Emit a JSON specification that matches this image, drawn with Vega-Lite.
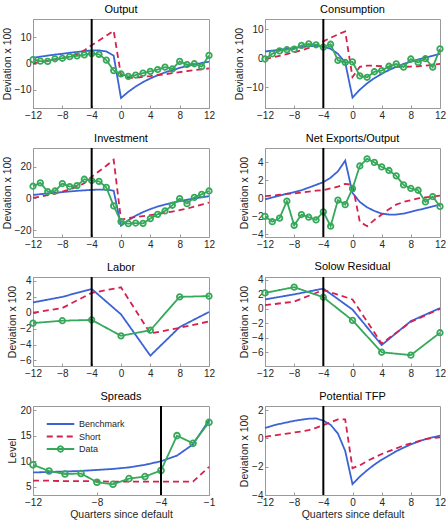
{
  "$schema": "https://vega.github.io/schema/vega-lite/v6.json",
  "padding": {"left": 1, "top": 3, "right": 5, "bottom": 5},
  "data": {
    "values": [
      {"p": "Output", "x": -12, "Benchmark": 2.2, "Short": 0.0, "Data": 1.5},
      {"p": "Output", "x": -11, "Benchmark": 2.6, "Short": 0.5, "Data": 0.9},
      {"p": "Output", "x": -10, "Benchmark": 3.0, "Short": 1.0, "Data": 0.8},
      {"p": "Output", "x": -9, "Benchmark": 3.4, "Short": 1.5, "Data": 1.8},
      {"p": "Output", "x": -8, "Benchmark": 3.7, "Short": 2.0, "Data": 2.0},
      {"p": "Output", "x": -7, "Benchmark": 4.1, "Short": 2.7, "Data": 2.6},
      {"p": "Output", "x": -6, "Benchmark": 4.4, "Short": 3.5, "Data": 2.9},
      {"p": "Output", "x": -5, "Benchmark": 4.7, "Short": 5.0, "Data": 3.3},
      {"p": "Output", "x": -4, "Benchmark": 5.0, "Short": 7.0, "Data": 3.8},
      {"p": "Output", "x": -3, "Benchmark": 5.0, "Short": 8.8, "Data": 3.5},
      {"p": "Output", "x": -2, "Benchmark": 4.6, "Short": 10.6, "Data": 1.3},
      {"p": "Output", "x": -1, "Benchmark": 3.0, "Short": 12.5, "Data": -2.7},
      {"p": "Output", "x": 0, "Benchmark": -13.2, "Short": -4.5, "Data": -4.0},
      {"p": "Output", "x": 1, "Benchmark": -10.8, "Short": -5.5, "Data": -4.9},
      {"p": "Output", "x": 2, "Benchmark": -8.8, "Short": -5.4, "Data": -4.4},
      {"p": "Output", "x": 3, "Benchmark": -7.1, "Short": -5.1, "Data": -3.7},
      {"p": "Output", "x": 4, "Benchmark": -5.7, "Short": -4.8, "Data": -3.0},
      {"p": "Output", "x": 5, "Benchmark": -4.5, "Short": -4.4, "Data": -2.3},
      {"p": "Output", "x": 6, "Benchmark": -3.4, "Short": -4.1, "Data": -1.4},
      {"p": "Output", "x": 7, "Benchmark": -2.5, "Short": -3.7, "Data": -2.1},
      {"p": "Output", "x": 8, "Benchmark": -1.7, "Short": -3.3, "Data": 0.8},
      {"p": "Output", "x": 9, "Benchmark": -1.0, "Short": -2.9, "Data": -0.4},
      {"p": "Output", "x": 10, "Benchmark": -0.4, "Short": -2.5, "Data": -0.1},
      {"p": "Output", "x": 11, "Benchmark": 0.2, "Short": -2.2, "Data": -1.2},
      {"p": "Output", "x": 12, "Benchmark": 0.7, "Short": -1.9, "Data": 3.1},

      {"p": "Consumption", "x": -12, "Benchmark": 2.3, "Short": -0.3, "Data": -0.3},
      {"p": "Consumption", "x": -11, "Benchmark": 2.6, "Short": 0.2, "Data": 1.5},
      {"p": "Consumption", "x": -10, "Benchmark": 2.9, "Short": 0.8, "Data": 2.5},
      {"p": "Consumption", "x": -9, "Benchmark": 3.2, "Short": 1.4, "Data": 2.9},
      {"p": "Consumption", "x": -8, "Benchmark": 3.5, "Short": 2.0, "Data": 3.1},
      {"p": "Consumption", "x": -7, "Benchmark": 3.8, "Short": 2.7, "Data": 4.4},
      {"p": "Consumption", "x": -6, "Benchmark": 4.1, "Short": 3.5, "Data": 4.9},
      {"p": "Consumption", "x": -5, "Benchmark": 4.2, "Short": 4.5, "Data": 4.6},
      {"p": "Consumption", "x": -4, "Benchmark": 4.0, "Short": 5.8, "Data": 3.8},
      {"p": "Consumption", "x": -3, "Benchmark": 3.2, "Short": 7.0, "Data": 4.8},
      {"p": "Consumption", "x": -2, "Benchmark": 1.5, "Short": 8.2, "Data": -0.8},
      {"p": "Consumption", "x": -1, "Benchmark": -1.5, "Short": 9.2, "Data": -1.5},
      {"p": "Consumption", "x": 0, "Benchmark": -13.6, "Short": -6.5, "Data": -1.3},
      {"p": "Consumption", "x": 1, "Benchmark": -10.9, "Short": -3.0, "Data": -6.1},
      {"p": "Consumption", "x": 2, "Benchmark": -8.7, "Short": -2.6, "Data": -6.6},
      {"p": "Consumption", "x": 3, "Benchmark": -6.9, "Short": -2.6, "Data": -4.7},
      {"p": "Consumption", "x": 4, "Benchmark": -5.4, "Short": -2.8, "Data": -4.3},
      {"p": "Consumption", "x": 5, "Benchmark": -4.1, "Short": -3.0, "Data": -2.8},
      {"p": "Consumption", "x": 6, "Benchmark": -3.0, "Short": -3.0, "Data": -2.0},
      {"p": "Consumption", "x": 7, "Benchmark": -2.0, "Short": -3.0, "Data": -3.1},
      {"p": "Consumption", "x": 8, "Benchmark": -1.2, "Short": -2.9, "Data": -0.3},
      {"p": "Consumption", "x": 9, "Benchmark": -0.5, "Short": -2.8, "Data": -1.5},
      {"p": "Consumption", "x": 10, "Benchmark": 0.2, "Short": -2.6, "Data": -0.2},
      {"p": "Consumption", "x": 11, "Benchmark": 0.8, "Short": -2.3, "Data": -3.1},
      {"p": "Consumption", "x": 12, "Benchmark": 1.5, "Short": -2.0, "Data": 3.2},

      {"p": "Investment", "x": -12, "Benchmark": 2.1, "Short": 0.2, "Data": 7.6},
      {"p": "Investment", "x": -11, "Benchmark": 2.6, "Short": 1.0, "Data": 9.7},
      {"p": "Investment", "x": -10, "Benchmark": 3.1, "Short": 2.0, "Data": 4.2},
      {"p": "Investment", "x": -9, "Benchmark": 3.5, "Short": 3.0, "Data": 4.6},
      {"p": "Investment", "x": -8, "Benchmark": 3.9, "Short": 4.2, "Data": 9.3},
      {"p": "Investment", "x": -7, "Benchmark": 4.3, "Short": 5.6, "Data": 7.4},
      {"p": "Investment", "x": -6, "Benchmark": 4.7, "Short": 7.3, "Data": 8.0},
      {"p": "Investment", "x": -5, "Benchmark": 5.0, "Short": 9.5, "Data": 12.0},
      {"p": "Investment", "x": -4, "Benchmark": 5.3, "Short": 13.5, "Data": 11.2},
      {"p": "Investment", "x": -3, "Benchmark": 5.5, "Short": 17.0, "Data": 10.7},
      {"p": "Investment", "x": -2, "Benchmark": 5.5, "Short": 20.5, "Data": 6.9},
      {"p": "Investment", "x": -1, "Benchmark": 4.8, "Short": 24.3, "Data": -4.8},
      {"p": "Investment", "x": 0, "Benchmark": -17.3, "Short": -13.5, "Data": -14.7},
      {"p": "Investment", "x": 1, "Benchmark": -13.8, "Short": -12.5, "Data": -16.0},
      {"p": "Investment", "x": 2, "Benchmark": -11.0, "Short": -11.8, "Data": -15.6},
      {"p": "Investment", "x": 3, "Benchmark": -8.7, "Short": -11.2, "Data": -15.8},
      {"p": "Investment", "x": 4, "Benchmark": -6.8, "Short": -10.6, "Data": -12.8},
      {"p": "Investment", "x": 5, "Benchmark": -5.2, "Short": -10.0, "Data": -10.1},
      {"p": "Investment", "x": 6, "Benchmark": -3.9, "Short": -9.2, "Data": -8.0},
      {"p": "Investment", "x": 7, "Benchmark": -2.8, "Short": -8.4, "Data": -4.4},
      {"p": "Investment", "x": 8, "Benchmark": -1.8, "Short": -7.5, "Data": -0.2},
      {"p": "Investment", "x": 9, "Benchmark": -0.9, "Short": -6.5, "Data": -3.4},
      {"p": "Investment", "x": 10, "Benchmark": -0.1, "Short": -5.3, "Data": 0.6},
      {"p": "Investment", "x": 11, "Benchmark": 0.6, "Short": -4.0, "Data": 2.5},
      {"p": "Investment", "x": 12, "Benchmark": 1.3, "Short": -2.7, "Data": 4.6},

      {"p": "Net Exports/Output", "x": -12, "Benchmark": -0.1, "Short": 0.25, "Data": -2.0},
      {"p": "Net Exports/Output", "x": -11, "Benchmark": 0.1, "Short": 0.3, "Data": -2.6},
      {"p": "Net Exports/Output", "x": -10, "Benchmark": 0.3, "Short": 0.4, "Data": -2.2},
      {"p": "Net Exports/Output", "x": -9, "Benchmark": 0.5, "Short": 0.5, "Data": -0.3},
      {"p": "Net Exports/Output", "x": -8, "Benchmark": 0.7, "Short": 0.55, "Data": -3.0},
      {"p": "Net Exports/Output", "x": -7, "Benchmark": 0.9, "Short": 0.65, "Data": -1.8},
      {"p": "Net Exports/Output", "x": -6, "Benchmark": 1.2, "Short": 0.75, "Data": -2.1},
      {"p": "Net Exports/Output", "x": -5, "Benchmark": 1.5, "Short": 0.85, "Data": -2.4},
      {"p": "Net Exports/Output", "x": -4, "Benchmark": 1.8, "Short": 0.9, "Data": -1.5},
      {"p": "Net Exports/Output", "x": -3, "Benchmark": 2.3, "Short": 1.1, "Data": -3.1},
      {"p": "Net Exports/Output", "x": -2, "Benchmark": 3.0, "Short": 1.3, "Data": -0.2},
      {"p": "Net Exports/Output", "x": -1, "Benchmark": 4.2, "Short": 1.6, "Data": -0.7},
      {"p": "Net Exports/Output", "x": 0, "Benchmark": 0.6, "Short": 1.5, "Data": 1.1},
      {"p": "Net Exports/Output", "x": 1, "Benchmark": -0.4, "Short": -2.6, "Data": 3.6},
      {"p": "Net Exports/Output", "x": 2, "Benchmark": -1.0, "Short": -3.1, "Data": 4.4},
      {"p": "Net Exports/Output", "x": 3, "Benchmark": -1.4, "Short": -2.4, "Data": 4.0},
      {"p": "Net Exports/Output", "x": 4, "Benchmark": -1.7, "Short": -1.8, "Data": 3.5},
      {"p": "Net Exports/Output", "x": 5, "Benchmark": -1.8, "Short": -1.2, "Data": 3.1},
      {"p": "Net Exports/Output", "x": 6, "Benchmark": -1.8, "Short": -0.7, "Data": 2.5},
      {"p": "Net Exports/Output", "x": 7, "Benchmark": -1.7, "Short": -0.4, "Data": 1.5},
      {"p": "Net Exports/Output", "x": 8, "Benchmark": -1.5, "Short": -0.2, "Data": 1.1},
      {"p": "Net Exports/Output", "x": 9, "Benchmark": -1.3, "Short": 0.0, "Data": 0.9},
      {"p": "Net Exports/Output", "x": 10, "Benchmark": -1.1, "Short": 0.1, "Data": -0.4},
      {"p": "Net Exports/Output", "x": 11, "Benchmark": -0.9, "Short": 0.2, "Data": 0.2},
      {"p": "Net Exports/Output", "x": 12, "Benchmark": -0.7, "Short": 0.3, "Data": -0.9},

      {"p": "Labor", "x": -12, "Benchmark": 1.3, "Short": 0.0, "Data": -1.3},
      {"p": "Labor", "x": -8, "Benchmark": 2.0, "Short": 0.6, "Data": -1.0},
      {"p": "Labor", "x": -4, "Benchmark": 3.0, "Short": 2.5, "Data": -0.9},
      {"p": "Labor", "x": 0, "Benchmark": -0.2, "Short": 3.2, "Data": -2.9},
      {"p": "Labor", "x": 4, "Benchmark": -5.4, "Short": -2.6, "Data": -2.2},
      {"p": "Labor", "x": 8, "Benchmark": -1.8, "Short": -1.9, "Data": 2.0},
      {"p": "Labor", "x": 12, "Benchmark": 0.1, "Short": -1.1, "Data": 2.1},

      {"p": "Solow Residual", "x": -12, "Benchmark": 1.3, "Short": 0.5, "Data": 2.2},
      {"p": "Solow Residual", "x": -8, "Benchmark": 2.0, "Short": 1.0, "Data": 3.0},
      {"p": "Solow Residual", "x": -4, "Benchmark": 2.8, "Short": 2.6, "Data": 1.6},
      {"p": "Solow Residual", "x": 0, "Benchmark": -0.1, "Short": 1.3, "Data": -1.6},
      {"p": "Solow Residual", "x": 4, "Benchmark": -5.0, "Short": -4.8, "Data": -6.0},
      {"p": "Solow Residual", "x": 8, "Benchmark": -1.7, "Short": -1.8, "Data": -6.4},
      {"p": "Solow Residual", "x": 12, "Benchmark": 0.1, "Short": 0.0, "Data": -3.3},

      {"p": "Spreads", "x": -12, "Benchmark": 7.8, "Short": 6.2, "Data": 9.3},
      {"p": "Spreads", "x": -11, "Benchmark": 7.9, "Short": 6.2, "Data": 8.1},
      {"p": "Spreads", "x": -10, "Benchmark": 8.0, "Short": 6.1, "Data": 7.5},
      {"p": "Spreads", "x": -9, "Benchmark": 8.1, "Short": 6.1, "Data": 7.6},
      {"p": "Spreads", "x": -8, "Benchmark": 8.3, "Short": 6.1, "Data": 5.9},
      {"p": "Spreads", "x": -7, "Benchmark": 8.5, "Short": 6.0, "Data": 5.5},
      {"p": "Spreads", "x": -6, "Benchmark": 8.8, "Short": 6.0, "Data": 6.6},
      {"p": "Spreads", "x": -5, "Benchmark": 9.3, "Short": 6.0, "Data": 7.0},
      {"p": "Spreads", "x": -4, "Benchmark": 10.0, "Short": 6.0, "Data": 8.2},
      {"p": "Spreads", "x": -3, "Benchmark": 11.1, "Short": 6.0, "Data": 15.0},
      {"p": "Spreads", "x": -2, "Benchmark": 13.3, "Short": 6.0, "Data": 13.5},
      {"p": "Spreads", "x": -1, "Benchmark": 18.0, "Short": 8.9, "Data": 17.6},

      {"p": "Potential TFP", "x": -12, "Benchmark": 0.74, "Short": 0.12},
      {"p": "Potential TFP", "x": -11, "Benchmark": 0.9, "Short": 0.2},
      {"p": "Potential TFP", "x": -10, "Benchmark": 1.03, "Short": 0.27},
      {"p": "Potential TFP", "x": -9, "Benchmark": 1.14, "Short": 0.34},
      {"p": "Potential TFP", "x": -8, "Benchmark": 1.25, "Short": 0.42},
      {"p": "Potential TFP", "x": -7, "Benchmark": 1.33, "Short": 0.5},
      {"p": "Potential TFP", "x": -6, "Benchmark": 1.4, "Short": 0.6},
      {"p": "Potential TFP", "x": -5, "Benchmark": 1.42, "Short": 0.75},
      {"p": "Potential TFP", "x": -4, "Benchmark": 1.27, "Short": 0.95},
      {"p": "Potential TFP", "x": -3, "Benchmark": 0.97, "Short": 1.15},
      {"p": "Potential TFP", "x": -2, "Benchmark": 0.35, "Short": 1.35},
      {"p": "Potential TFP", "x": -1, "Benchmark": -0.88, "Short": 1.35},
      {"p": "Potential TFP", "x": 0, "Benchmark": -3.23, "Short": -2.1},
      {"p": "Potential TFP", "x": 1, "Benchmark": -2.7, "Short": -1.9},
      {"p": "Potential TFP", "x": 2, "Benchmark": -2.25, "Short": -1.6},
      {"p": "Potential TFP", "x": 3, "Benchmark": -1.85, "Short": -1.35},
      {"p": "Potential TFP", "x": 4, "Benchmark": -1.5, "Short": -1.1},
      {"p": "Potential TFP", "x": 5, "Benchmark": -1.2, "Short": -0.9},
      {"p": "Potential TFP", "x": 6, "Benchmark": -0.9, "Short": -0.7},
      {"p": "Potential TFP", "x": 7, "Benchmark": -0.65, "Short": -0.5},
      {"p": "Potential TFP", "x": 8, "Benchmark": -0.42, "Short": -0.35},
      {"p": "Potential TFP", "x": 9, "Benchmark": -0.22, "Short": -0.2},
      {"p": "Potential TFP", "x": 10, "Benchmark": -0.05, "Short": -0.05},
      {"p": "Potential TFP", "x": 11, "Benchmark": 0.08, "Short": 0.02},
      {"p": "Potential TFP", "x": 12, "Benchmark": 0.2, "Short": 0.08}
    ]
  },
  "columns": 2,
  "spacing": {"row": 40, "column": 56},
  "bounds": "flush",
  "resolve": {"scale": {"color": "independent", "strokeDash": "independent"}},
  "concat": [
    {
      "title": "Output", "width": 176, "height": 89,
      "layer": [
        {
          "transform": [{"filter": {"field": "p", "equal": "Output"}}, {"fold": ["Benchmark", "Short", "Data"], "as": ["s", "y"]}, {"filter": "isValid(datum.y)"}],
          "mark": {"type": "line", "strokeWidth": 1.8},
          "encoding": {
            "x": {"field": "x", "type": "quantitative", "scale": {"domain": [-12, 12], "nice": false, "zero": false}, "axis": {"values": [-12, -8, -4, 0, 4, 8, 12], "tickCount": 30, "format": "d", "title": null}},
            "y": {"field": "y", "type": "quantitative", "scale": {"domain": [-17, 17], "nice": false, "zero": false}, "axis": {"values": [-10, 0, 10], "tickCount": 30, "format": "d", "title": "Deviation x 100"}},
            "color": {"field": "s", "type": "nominal", "scale": {"domain": ["Benchmark", "Short", "Data"], "range": ["#3B63D6", "#D6204E", "#35A85A"]}, "legend": null},
            "strokeDash": {"field": "s", "type": "nominal", "scale": {"domain": ["Benchmark", "Short", "Data"], "range": [[1, 0], [6, 4], [1, 0]]}, "legend": null}
          }
        },
        {
          "transform": [{"filter": {"field": "p", "equal": "Output"}}, {"fold": ["Data"], "as": ["s", "y"]}, {"filter": "isValid(datum.y)"}],
          "mark": {"type": "point", "filled": false, "size": 30, "strokeWidth": 1.8, "color": "#35A85A", "opacity": 1},
          "encoding": {"x": {"field": "x", "type": "quantitative"}, "y": {"field": "y", "type": "quantitative"}}
        },
        {
          "data": {"values": [{"x": -4}]},
          "mark": {"type": "rule", "color": "#000000", "strokeWidth": 2},
          "encoding": {"x": {"field": "x", "type": "quantitative"}}
        }
      ]
    },
    {
      "title": "Consumption", "width": 175, "height": 89,
      "layer": [
        {
          "transform": [{"filter": {"field": "p", "equal": "Consumption"}}, {"fold": ["Benchmark", "Short", "Data"], "as": ["s", "y"]}, {"filter": "isValid(datum.y)"}],
          "mark": {"type": "line", "strokeWidth": 1.8},
          "encoding": {
            "x": {"field": "x", "type": "quantitative", "scale": {"domain": [-12, 12], "nice": false, "zero": false}, "axis": {"values": [-12, -8, -4, 0, 4, 8, 12], "tickCount": 30, "format": "d", "title": null}},
            "y": {"field": "y", "type": "quantitative", "scale": {"domain": [-17.2, 13.5], "nice": false, "zero": false}, "axis": {"values": [-10, 0, 10], "tickCount": 30, "format": "d", "title": "Deviation x 100"}},
            "color": {"field": "s", "type": "nominal", "scale": {"domain": ["Benchmark", "Short", "Data"], "range": ["#3B63D6", "#D6204E", "#35A85A"]}, "legend": null},
            "strokeDash": {"field": "s", "type": "nominal", "scale": {"domain": ["Benchmark", "Short", "Data"], "range": [[1, 0], [6, 4], [1, 0]]}, "legend": null}
          }
        },
        {
          "transform": [{"filter": {"field": "p", "equal": "Consumption"}}, {"fold": ["Data"], "as": ["s", "y"]}, {"filter": "isValid(datum.y)"}],
          "mark": {"type": "point", "filled": false, "size": 30, "strokeWidth": 1.8, "color": "#35A85A", "opacity": 1},
          "encoding": {"x": {"field": "x", "type": "quantitative"}, "y": {"field": "y", "type": "quantitative"}}
        },
        {
          "data": {"values": [{"x": -4}]},
          "mark": {"type": "rule", "color": "#000000", "strokeWidth": 2},
          "encoding": {"x": {"field": "x", "type": "quantitative"}}
        }
      ]
    },
    {
      "title": "Investment", "width": 176, "height": 89,
      "layer": [
        {
          "transform": [{"filter": {"field": "p", "equal": "Investment"}}, {"fold": ["Benchmark", "Short", "Data"], "as": ["s", "y"]}, {"filter": "isValid(datum.y)"}],
          "mark": {"type": "line", "strokeWidth": 1.8},
          "encoding": {
            "x": {"field": "x", "type": "quantitative", "scale": {"domain": [-12, 12], "nice": false, "zero": false}, "axis": {"values": [-12, -8, -4, 0, 4, 8, 12], "tickCount": 30, "format": "d", "title": null}},
            "y": {"field": "y", "type": "quantitative", "scale": {"domain": [-24.4, 31.7], "nice": false, "zero": false}, "axis": {"values": [-20, 0, 20], "tickCount": 30, "format": "d", "title": "Deviation x 100"}},
            "color": {"field": "s", "type": "nominal", "scale": {"domain": ["Benchmark", "Short", "Data"], "range": ["#3B63D6", "#D6204E", "#35A85A"]}, "legend": null},
            "strokeDash": {"field": "s", "type": "nominal", "scale": {"domain": ["Benchmark", "Short", "Data"], "range": [[1, 0], [6, 4], [1, 0]]}, "legend": null}
          }
        },
        {
          "transform": [{"filter": {"field": "p", "equal": "Investment"}}, {"fold": ["Data"], "as": ["s", "y"]}, {"filter": "isValid(datum.y)"}],
          "mark": {"type": "point", "filled": false, "size": 30, "strokeWidth": 1.8, "color": "#35A85A", "opacity": 1},
          "encoding": {"x": {"field": "x", "type": "quantitative"}, "y": {"field": "y", "type": "quantitative"}}
        },
        {
          "data": {"values": [{"x": -4}]},
          "mark": {"type": "rule", "color": "#000000", "strokeWidth": 2},
          "encoding": {"x": {"field": "x", "type": "quantitative"}}
        }
      ]
    },
    {
      "title": "Net Exports/Output", "width": 175, "height": 89,
      "layer": [
        {
          "transform": [{"filter": {"field": "p", "equal": "Net Exports/Output"}}, {"fold": ["Benchmark", "Short", "Data"], "as": ["s", "y"]}, {"filter": "isValid(datum.y)"}],
          "mark": {"type": "line", "strokeWidth": 1.8},
          "encoding": {
            "x": {"field": "x", "type": "quantitative", "scale": {"domain": [-12, 12], "nice": false, "zero": false}, "axis": {"values": [-12, -8, -4, 0, 4, 8, 12], "tickCount": 30, "format": "d", "title": null}},
            "y": {"field": "y", "type": "quantitative", "scale": {"domain": [-4.3, 5.6], "nice": false, "zero": false}, "axis": {"values": [-4, -2, 0, 2, 4], "tickCount": 30, "format": "d", "title": "Deviation x 100"}},
            "color": {"field": "s", "type": "nominal", "scale": {"domain": ["Benchmark", "Short", "Data"], "range": ["#3B63D6", "#D6204E", "#35A85A"]}, "legend": null},
            "strokeDash": {"field": "s", "type": "nominal", "scale": {"domain": ["Benchmark", "Short", "Data"], "range": [[1, 0], [6, 4], [1, 0]]}, "legend": null}
          }
        },
        {
          "transform": [{"filter": {"field": "p", "equal": "Net Exports/Output"}}, {"fold": ["Data"], "as": ["s", "y"]}, {"filter": "isValid(datum.y)"}],
          "mark": {"type": "point", "filled": false, "size": 30, "strokeWidth": 1.8, "color": "#35A85A", "opacity": 1},
          "encoding": {"x": {"field": "x", "type": "quantitative"}, "y": {"field": "y", "type": "quantitative"}}
        },
        {
          "data": {"values": [{"x": -4}]},
          "mark": {"type": "rule", "color": "#000000", "strokeWidth": 2},
          "encoding": {"x": {"field": "x", "type": "quantitative"}}
        }
      ]
    },
    {
      "title": "Labor", "width": 176, "height": 89,
      "layer": [
        {
          "transform": [{"filter": {"field": "p", "equal": "Labor"}}, {"fold": ["Benchmark", "Short", "Data"], "as": ["s", "y"]}, {"filter": "isValid(datum.y)"}],
          "mark": {"type": "line", "strokeWidth": 1.8},
          "encoding": {
            "x": {"field": "x", "type": "quantitative", "scale": {"domain": [-12, 12], "nice": false, "zero": false}, "axis": {"values": [-12, -8, -4, 0, 4, 8, 12], "tickCount": 30, "format": "d", "title": null}},
            "y": {"field": "y", "type": "quantitative", "scale": {"domain": [-6.7, 4.5], "nice": false, "zero": false}, "axis": {"values": [-6, -4, -2, 0, 2, 4], "tickCount": 30, "format": "d", "title": "Deviation x 100"}},
            "color": {"field": "s", "type": "nominal", "scale": {"domain": ["Benchmark", "Short", "Data"], "range": ["#3B63D6", "#D6204E", "#35A85A"]}, "legend": null},
            "strokeDash": {"field": "s", "type": "nominal", "scale": {"domain": ["Benchmark", "Short", "Data"], "range": [[1, 0], [6, 4], [1, 0]]}, "legend": null}
          }
        },
        {
          "transform": [{"filter": {"field": "p", "equal": "Labor"}}, {"fold": ["Data"], "as": ["s", "y"]}, {"filter": "isValid(datum.y)"}],
          "mark": {"type": "point", "filled": false, "size": 30, "strokeWidth": 1.8, "color": "#35A85A", "opacity": 1},
          "encoding": {"x": {"field": "x", "type": "quantitative"}, "y": {"field": "y", "type": "quantitative"}}
        },
        {
          "data": {"values": [{"x": -4}]},
          "mark": {"type": "rule", "color": "#000000", "strokeWidth": 2},
          "encoding": {"x": {"field": "x", "type": "quantitative"}}
        }
      ]
    },
    {
      "title": "Solow Residual", "width": 175, "height": 89,
      "layer": [
        {
          "transform": [{"filter": {"field": "p", "equal": "Solow Residual"}}, {"fold": ["Benchmark", "Short", "Data"], "as": ["s", "y"]}, {"filter": "isValid(datum.y)"}],
          "mark": {"type": "line", "strokeWidth": 1.8},
          "encoding": {
            "x": {"field": "x", "type": "quantitative", "scale": {"domain": [-12, 12], "nice": false, "zero": false}, "axis": {"values": [-12, -8, -4, 0, 4, 8, 12], "tickCount": 30, "format": "d", "title": null}},
            "y": {"field": "y", "type": "quantitative", "scale": {"domain": [-7.9, 4.4], "nice": false, "zero": false}, "axis": {"values": [-6, -4, -2, 0, 2, 4], "tickCount": 30, "format": "d", "title": "Deviation x 100"}},
            "color": {"field": "s", "type": "nominal", "scale": {"domain": ["Benchmark", "Short", "Data"], "range": ["#3B63D6", "#D6204E", "#35A85A"]}, "legend": null},
            "strokeDash": {"field": "s", "type": "nominal", "scale": {"domain": ["Benchmark", "Short", "Data"], "range": [[1, 0], [6, 4], [1, 0]]}, "legend": null}
          }
        },
        {
          "transform": [{"filter": {"field": "p", "equal": "Solow Residual"}}, {"fold": ["Data"], "as": ["s", "y"]}, {"filter": "isValid(datum.y)"}],
          "mark": {"type": "point", "filled": false, "size": 30, "strokeWidth": 1.8, "color": "#35A85A", "opacity": 1},
          "encoding": {"x": {"field": "x", "type": "quantitative"}, "y": {"field": "y", "type": "quantitative"}}
        },
        {
          "data": {"values": [{"x": -4}]},
          "mark": {"type": "rule", "color": "#000000", "strokeWidth": 2},
          "encoding": {"x": {"field": "x", "type": "quantitative"}}
        }
      ]
    },
    {
      "title": "Spreads", "width": 176, "height": 89,
      "layer": [
        {
          "transform": [{"filter": {"field": "p", "equal": "Spreads"}}, {"fold": ["Benchmark", "Short", "Data"], "as": ["s", "y"]}, {"filter": "isValid(datum.y)"}],
          "mark": {"type": "line", "strokeWidth": 1.8},
          "encoding": {
            "x": {"field": "x", "type": "quantitative", "scale": {"domain": [-12, -1], "nice": false, "zero": false}, "axis": {"values": [-12, -8, -4, -1], "tickCount": 30, "format": "d", "title": "Quarters since default"}},
            "y": {"field": "y", "type": "quantitative", "scale": {"domain": [3.4, 20.8], "nice": false, "zero": false}, "axis": {"values": [5, 10, 15, 20], "tickCount": 30, "format": "d", "title": "Level"}},
            "color": {
              "field": "s", "type": "nominal",
              "scale": {"domain": ["Benchmark", "Short", "Data"], "range": ["#3B63D6", "#D6204E", "#35A85A"]},
              "legend": {
                "orient": "none", "legendX": 21, "legendY": 11.5, "title": null,
                "symbolType": "M-2.5,0H2.5", "symbolSize": 121, "symbolStrokeWidth": 1.8,
                "labelFontSize": 9, "labelOffset": 12, "rowPadding": 0.5, "padding": 0,
                "labelColor": "#262626",
                "encode": {"symbols": {"update": {"shape": {"signal": "datum.value === 'Data' ? 'M-2.5,0H2.5M0.5,0A0.5,0.5 0 1 1 -0.5,0A0.5,0.5 0 1 1 0.5,0' : 'M-2.5,0H2.5'"}}}}
              }
            },
            "strokeDash": {"field": "s", "type": "nominal", "scale": {"domain": ["Benchmark", "Short", "Data"], "range": [[1, 0], [6, 4], [1, 0]]}}
          }
        },
        {
          "transform": [{"filter": {"field": "p", "equal": "Spreads"}}, {"fold": ["Data"], "as": ["s", "y"]}, {"filter": "isValid(datum.y)"}],
          "mark": {"type": "point", "filled": false, "size": 34, "strokeWidth": 1.8, "color": "#35A85A", "opacity": 1},
          "encoding": {"x": {"field": "x", "type": "quantitative"}, "y": {"field": "y", "type": "quantitative"}}
        },
        {
          "data": {"values": [{"x": -4}]},
          "mark": {"type": "rule", "color": "#000000", "strokeWidth": 2},
          "encoding": {"x": {"field": "x", "type": "quantitative"}}
        }
      ]
    },
    {
      "title": "Potential TFP", "width": 175, "height": 89,
      "layer": [
        {
          "transform": [{"filter": {"field": "p", "equal": "Potential TFP"}}, {"fold": ["Benchmark", "Short", "Data"], "as": ["s", "y"]}, {"filter": "isValid(datum.y)"}],
          "mark": {"type": "line", "strokeWidth": 1.8},
          "encoding": {
            "x": {"field": "x", "type": "quantitative", "scale": {"domain": [-12, 12], "nice": false, "zero": false}, "axis": {"values": [-12, -8, -4, 0, 4, 8, 12], "tickCount": 30, "format": "d", "title": "Quarters since default"}},
            "y": {"field": "y", "type": "quantitative", "scale": {"domain": [-4, 2.3], "nice": false, "zero": false}, "axis": {"values": [-4, -2, 0, 2], "tickCount": 30, "format": "d", "title": "Deviation x 100"}},
            "color": {"field": "s", "type": "nominal", "scale": {"domain": ["Benchmark", "Short", "Data"], "range": ["#3B63D6", "#D6204E", "#35A85A"]}, "legend": null},
            "strokeDash": {"field": "s", "type": "nominal", "scale": {"domain": ["Benchmark", "Short", "Data"], "range": [[1, 0], [6, 4], [1, 0]]}, "legend": null}
          }
        },
        {
          "data": {"values": [{"x": -4}]},
          "mark": {"type": "rule", "color": "#000000", "strokeWidth": 2},
          "encoding": {"x": {"field": "x", "type": "quantitative"}}
        }
      ]
    }
  ],
  "config": {
    "font": "Liberation Sans",
    "view": {"stroke": "#9a9a9a", "strokeWidth": 1},
    "axis": {
      "grid": false,
      "domainColor": "#9a9a9a",
      "tickColor": "#9a9a9a",
      "tickSize": -3,
      "labelFontSize": 10,
      "labelColor": "#262626",
      "labelFlush": false,
      "labelOverlap": false,
      "labelPadding": 5,
      "titleFontSize": 10.5,
      "titleFontWeight": "normal",
      "titleColor": "#262626",
      "titlePadding": 2
    },
    "title": {"fontSize": 11, "fontWeight": "normal", "color": "#000000", "offset": 3}
  }
}
